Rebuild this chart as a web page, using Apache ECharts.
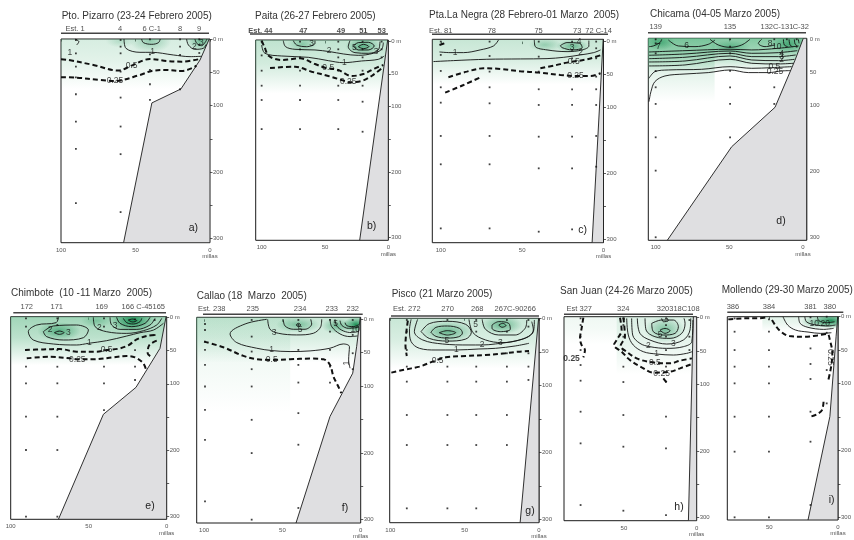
<!DOCTYPE html>
<html><head><meta charset="utf-8">
<script src="https://cdn.jsdelivr.net/npm/echarts@6/dist/echarts.min.js"></script>
<style>html,body{margin:0;padding:0;background:#fff}#c{width:854px;height:540px}</style>
</head><body><div id="c"></div>
<script>
// ---------- DATA (miles offshore, depth m) ----------
const titles = ['Pto. Pizarro (23-24 Febrero 2005)','Paita (26-27 Febrero 2005)','Pta.La Negra (28 Febrero-01 Marzo  2005)','Chicama (04-05 Marzo 2005)','Chimbote  (10 -11 Marzo  2005)','Callao (18  Marzo  2005)','Pisco (21 Marzo 2005)','San Juan (24-26 Marzo 2005)','Mollendo (29-30 Marzo 2005)'];
const letters = ['a)','b)','c)','d)','e)','f)','g)','h)','i)'];
const xTickValues = [0,50,100];
const yTickValues = [0,50,100,150,200,250,300];
const yLabelValues = [0,50,100,200,300];

// a) Pto. Pizarro
const stationsA = [['Est. 1',90.6],['4',60.4],['6 C-1',39.1],['8',20.1],['9',7.4]];
const dotsA = [[90,1.5,21.5,41.5,57.5,83,124,165,246.5],[60,1.5,11.5,21.5,49,88,131.5,173,260],[40.3,0.5,23,46.5,68,91.5],[20.1,0.5,11.5,24,48,75.5],[7.2,0.5,9,21]];
const bathyA = [[0.5,0],[6.7,31.5],[19.5,75],[39,96],[58,306]];
const contoursA = [
 [0.25,[[100,57.5],[89.9,58],[73.8,61.5],[63.8,63],[47,54],[39.1,48],[29.1,46.5],[19,48],[11.2,43],[9.2,40]]],
 [0.5,[[100,30.5],[95.1,31.5],[78.3,39],[61.5,47.5],[52.6,40],[40.3,30],[29.1,33],[19,34],[6.6,30]]],
 [1,[[57.7,0],[56.4,14],[47,20],[39.1,20],[24.6,24],[13.4,26.5],[5.8,26]]],
 [1,[[90.5,0],[88,4],[89.5,9]]],
 [2,[[45.9,0],[44.7,5.5],[39.1,8],[34.6,5.5],[33.4,0]]],
 [2,[[15.7,0],[14.5,9],[10.1,15.5],[4.5,14],[2.5,8]]],
 [3,[[10.1,0],[8.9,6.5],[5.6,10],[3.4,5.5],[2,0]]]
];
const labelsA = [['0.25',63.8,63],['0.5',52.6,40],['1',38.5,19.5],['1',94,20],['2',10.5,11],['3',5.8,5]];
const shadeA = [[100,0,75,0.26]];
const blobsA = [[40,3,14,18,0.35],[6,3,10,16,0.55],[60,3,10,10,0.2]];

// b) Paita
const stationsB = [['Est. 44',101],['47',67.1],['49',37.4],['51',19.7],['53',5.2]];
const dotsB = [[100,1,22,45.3,68.2,90,134.4],[69.7,1,12.7,25,45.3,68.2,90,134.4],[39.5,1,12.7,25,45.3,68.2,90,134.4],[20.3,1,12.7,25,45.3,68.2,92.6,138.4],[5.3,1,12.7,25]];
const bathyB = [[0.5,-1.5],[22.6,304]];
const contoursB = [
 [0.5,[[100,-0.5],[97.9,8.7],[94.2,22.9],[84.2,29],[69.7,26.5],[57.9,35.1],[50,40.7],[39.5,44.3],[28.9,53.4],[19.7,50.4],[10.5,41.7],[3.9,36.6]]],
 [0.25,[[93.4,41.2],[73.7,39.2],[60.5,46.8],[47.4,53.4],[36.8,59.5],[30.3,63.1],[21.1,61],[13.2,53.4],[5.3,41.7]]],
 [1,[[100,6.1],[97.4,18.8],[84.2,22.9],[63.2,24.9],[47.4,30],[35.5,33.1],[21.1,30.5],[7.9,28],[3.2,22.9]]],
 [2,[[82.9,-0.5],[81.1,8.7],[73.7,12.7],[57.9,13.7],[46.1,16.3],[35.5,19.8],[23.7,21.9],[11.8,18.8],[5.3,12.7],[3.9,2.5]]],
 [3,[[75,-0.5],[72.4,6.1],[64.5,8.7],[57.9,3.6],[57.9,-0.5]]],
 [3,[[30.3,-0.5],[31.6,8.7],[26.3,17.8],[15.8,18.8],[7.9,13.7],[6.6,1]]],
 [5,[[27.6,7.6],[23.7,2.5],[15.8,2],[11.1,7.6],[15.8,13.7],[23.7,13.7],[27.6,7.6]]],
 [10,[[23.7,8.7],[19.7,5.1],[15.3,8.7],[19.7,11.7],[23.7,8.7]]]
];
const labelsB = [['0.5',47.4,40.7],['0.25',31.6,62.1],['1',34.7,33.1],['2',46.8,15.3],['3',60.5,3.6],['5',26.8,10.2],['3',9.7,16.3]];
const shadeB = [[105,0,80,0.4]];
const blobsB = [[20,8,14,14,0.6],[68,5,12,12,0.35]];

// c) Pta. La Negra
const stationsC = [['Est. 81',100],['78',68.6],['75',39.9],['73',16.2],['72 C-14',3]];
const dotsC = [[100,0,20.2,44.5,69.3,92.6,143.1,186.1,283.3],[70,0,21.8,45.5,69.3,93.6,143.1,186.1,283.3],[39.8,0,22.8,45.5,72.3,96.1,144.2,192.2,288.3],[19.3,0,12.6,25.3,72.3,96.1,144.2,192.2,284.8],[4.5,0,10.1,25.3,53.1,72.3,96.1,143.1,189.7]];
const bathyC = [[0.2,-3.5],[7,305]];
const contoursC = [
 [0.25,[[95.3,54.1],[84,45.5],[73.7,40.5],[63.4,41.5],[51.1,45],[39.8,47],[26.5,50.6],[17.2,52.1],[8,52.1],[1.8,48]]],
 [0.25,[[97.3,77.4],[86,65.8],[74.7,53.1]]],
 [0.25,[[100.8,5.1],[96.3,1.5]]],
 [0.5,[[38.8,40.5],[29.6,35.9],[22.4,31.9],[10.1,26.8],[1.8,20.7]]],
 [1,[[100.8,15.7],[94.3,16.7],[86,16.7],[75.8,12.6],[67.6,6.6],[64.5,-2.5]]],
 [1,[[104.5,30.3],[92.2,28.8],[71.7,26.8],[51.1,26.3],[34.7,25.8],[24.4,23.8],[14.2,20.2],[6,16.7],[1.8,12.6]]],
 [2,[[42.5,-2.5],[41.9,7.6],[34.7,12.6],[22.4,15.2],[13.1,12.6],[9,6.6],[9,-1.5]]],
 [3,[[26.5,6.1],[22.4,1.5],[14.6,2.5],[13.1,9.1],[19.3,12.6],[25.5,9.1],[26.5,6.1]]]
];
const labelsC = [['1',91.2,16.2],['0.5',18.3,30.3],['0.25',17.2,52.1],['3',19.3,9.1],['4',15,-0.5],['2',14,16]];
const shadeC = [[105,0,65,0.35]];
const blobsC = [[19,7,10,10,0.55],[36,5,10,10,0.3]];

// d) Chicama
const stationsD = [['139',100],['135',49.6],['132',24.6],['C-131',13.5],['C-32',1.5]];
const dotsD = [[100,0.5,6.6,21.7,48.4,73.1,98.3,148.8,199.2,300],[49.5,0.5,11.6,21.7,48.4,73.1,98.3,148.8],[19.5,0.5,73.1,98.3],[11,0.5],[4.3,0.5,11.6]];
const bathyD = [[-0.2,-1],[5.4,32],[19,103.4],[48.4,163],[92.1,304.6]];
const contoursD = [
 [0.25,[[104.5,94.8],[103.2,79.7],[100.5,64.5],[93.7,56],[80.1,53],[64.3,50.9],[49.5,46.9],[37.1,50.9],[23.5,50.9],[14.5,48.4],[8.6,47.9]]],
 [0.5,[[104.5,59.5],[100.5,49.4],[91.4,46.9],[68.8,45.9],[49.5,41.9],[34.8,44.4],[21.3,43.4],[7.7,41.9]]],
 [1,[[104.5,40.8],[80.1,39.3],[49.5,30.8],[34.8,36.8],[16.7,37.8],[6.5,36.8]]],
 [2,[[104.5,34.8],[80.1,33.3],[49.5,25.7],[34.8,31.8],[16.7,32.8],[5.8,30.8]]],
 [3,[[104.5,29.8],[80.1,27.7],[49.5,21.7],[34.8,26.7],[16.7,26.7],[4.9,24.2]]],
 [4,[[104.5,24.7],[80.1,22.7],[49.5,18.2],[34.8,21.7],[16.7,20.7],[3.9,17.7]]],
 [5,[[104.5,19.7],[80.1,17.7],[49.5,15.6],[34.8,16.6],[16.7,14.1],[3,10.6]]],
 [6,[[91.4,1.5],[84.6,10.6],[73.3,11.6],[64.3,8.1],[59.7,1.5]]],
 [6,[[63.1,0.5],[57.5,9.1],[49.5,12.6],[41.6,9.1],[36,0.5]]],
 [7,[[104.5,11.6],[101.6,10.6],[97.1,5.5],[95.9,0.5]]],
 [8,[[28.1,0.5],[30.3,6.6],[25.8,11.6],[19,9.1]]],
 [8,[[13.3,0.5],[12.7,9.1],[10.4,11.6]]],
 [9,[[9.5,0.5],[8.8,9.1],[7.2,11.6]]],
 [10,[[5.9,0.5],[5.4,7.6],[4.1,10.1]]],
 [12,[[3.2,0.5],[2.7,6.6]]]
];
const labelsD = [['7',98.2,11.6],['6',79,10.6],['0.25',19,49],['0.5',19.5,42],['2',14.5,32],['3',14.5,27],['4',14.5,21.5],['8',22.4,7.6],['10',17.9,11]];
const shadeD = [[105,-2.5,50,0.8],[105,60,95,0.3]];
const blobsD = [[97,5,10,12,0.5],[49.5,12,14,10,0.45],[10,8,12,14,0.6]];

// e) Chimbote
const stationsE = [['172',89.7],['171',70.5],['169',41.7],['166 C-45165',15]];
const dotsE = [[90.2,1.5,14,49.2,74.3,99.3,149.5,199.7,300],[70.1,1.5,11.5,49.2,74.3,99.3,149.5,199.7,300],[40.2,1.5,14,49.2,74.3,99.3,139.5],[20.3,3,49.2,74.3,94.3],[7.7,4,26.6]];
const bathyE = [[0.4,-1],[4.3,46.7],[19.7,105.4],[40.6,146],[69.4,304]];
const contoursE = [
 [0.25,[[89.7,61.7],[74.8,59.2],[62,61.7],[57.3,63.2],[47,63.2],[34.2,60.2],[25.6,58.2],[20.3,60.2],[15,69.2],[13.2,79.3]]],
 [0.5,[[90.8,49.2],[79.1,48.2],[68.4,47.7],[57.7,51.7],[44.9,51.7],[38.5,49.2],[31,47.2],[24.6,42.1],[19.2,33.1],[12.8,28.1],[6.4,26.1]]],
 [0.5,[[6.4,35.1],[11.1,41.6],[12.2,54.2],[9,60.2]]],
 [1,[[69.4,0],[70.9,8],[83.3,11.5],[88.7,21.6],[85.5,34.1],[72.6,40.1],[57.7,41.6],[50.2,39.1],[38.5,35.1],[25.6,28.1],[17.1,23.1],[8.5,19.1],[2.1,9]]],
 [2,[[79.1,21.6],[72.6,13],[57.7,11.5],[50.2,19.1],[53.4,30.6],[66.2,34.1],[76.9,29.1],[79.1,21.6]]],
 [3,[[72,23.1],[68.8,20.6],[65.8,23.1],[68.8,25.6],[72,23.1]]],
 [2,[[47,0],[45.9,14],[38.5,21.6],[25.6,24.1],[15,20.1],[6.4,11.5],[3.2,1.5]]],
 [3,[[36.3,0],[35.3,11.5],[29.9,18.1],[19.2,18.1],[10.7,11.5],[7.5,1.5]]],
 [4,[[32.1,0],[29.9,9],[22.4,14],[13.9,9],[10.7,0]]],
 [5,[[27.8,1.5],[25.6,8],[21.4,10],[17.1,6.5],[16,1.5]]],
 [6,[[24.6,4],[21.8,2.5],[19.2,5],[21.8,7],[24.6,4]]]
];
const labelsE = [['0.25',57.3,63.2],['0.5',38.5,49.2],['1',49.6,38.5],['2',74.8,18.1],['3',63,23.1],['2',43.2,15.1],['3',33.1,13]];
const shadeE = [[100,0,72,0.6]];
const blobsE = [[69,21,14,14,0.6],[22,5,14,18,0.95],[45,5,10,10,0.3]];

// f) Callao
const stationsF = [['Est. 238',95.1],['235',68.9],['234',38.7],['233',18.5],['232',5.1]];
const dotsF = [[99.4,7,16,33.4,45.8,68.3,100.6,135.5,180.4,272.5],[69.6,1,25.9,48.3,74.7,100.6,150.5,200.3,300],[39.8,1,8.5,45.8,68.3,94.7,140.5,187.8,282.5],[19.6,1,18.4,45.8,70.8,94.7],[5.1,1,23.4,50.8,74.7]];
const bathyF = [[0.3,-3],[2.6,41],[5.1,80.7],[19.6,145.5],[41.3,305]];
const contoursF = [
 [0.5,[[100,33.4],[87.7,41.9],[74.9,54.8],[66.4,59.8],[56.8,60.8],[45.1,59.8],[32.3,58.8],[23.8,59.8],[19.6,68.3],[17.4,85.7],[14.3,100.6],[12.4,110.5]]],
 [1,[[60,0],[73.8,7],[83.4,21.9],[79.1,34.9],[66.4,43.3],[56.8,46.8],[45.1,48.3],[32.3,47.3],[19.6,43.3],[11.1,36.9],[7.2,40.9],[7.7,60.8],[6.8,73.2]]],
 [3,[[59.4,0],[57.9,14.9],[52.6,20.9],[40.9,23.4],[30.2,20.9],[25.5,11],[24.9,0]]],
 [5,[[49.4,0],[48.3,10],[43,14.9],[35.5,14.9],[31.3,7],[31.9,0]]],
 [7,[[41.3,8.5],[39.8,6],[38.3,8.5],[39.8,11],[41.3,8.5]]],
 [3,[[19.6,0],[18.5,11],[13.2,21.9],[6.8,25.9],[2,24.9]]],
 [5,[[16.4,0],[15.3,10],[11.1,17.4],[5.7,19.9],[1.7,18.4]]],
 [10,[[13.2,2],[12.1,9],[7.9,13.5],[1.4,12]]],
 [15,[[10,5],[8.9,9.5],[4.7,11],[1.3,8]]]
];
const labelsF = [['0.5',56.8,60.8],['1',56.8,46],['1',8.9,65.8,90],['3',55.3,19.9],['5',38.7,16],['5',16,7],['10',3.5,16]];
const shadeF = [[105,0,65,0.35],[105,45,140,0.12]];
const blobsF = [[40,8,14,12,0.45],[3,8,8,12,0.95],[15,10,10,12,0.5]];

// g) Pisco
const stationsG = [['Est. 272',88.9],['270',61.5],['268',41.5],['267C-90266',16]];
const dotsG = [[88.9,2.5,19.9,47.3,72.1,94.5,144.3,189.1,283.6],[61.6,2.5,72.1,94.5,144.3,189.1,283.6],[42.2,2.5,19.9,72.1,94.5,144.3,189.1,283.6],[21.6,2.5,19.9,52.2,72.1,94.5,144.3,189.1],[7.1,2.5,12.4,52.2,72.1,92]];
const bathyG = [[0.3,0],[12.7,305]];
const contoursG = [
 [0.5,[[99.3,81.1],[91.6,77.1],[80.4,72.1],[71.6,64.7],[62.7,58.2],[49.3,56.2],[36,54.7],[22.7,52.2],[13.8,49.8],[6.7,48.8]]],
 [0.5,[[88.2,3.5],[89.3,22.4],[89.8,39.8],[88.9,56.2]]],
 [1,[[86,1.5],[87.1,17.4],[86,34.8],[80.4,44.8],[69.3,47.3],[56,47.3],[40.4,45.8],[29.3,44.8],[16,41.3],[6.7,37.3]]],
 [2,[[81.6,1.5],[83.8,19.9],[78.2,32.3],[64.9,38.3],[47.1,39.8],[38.2,39.8],[29.3,38.3],[16,33.8],[7.1,27.4],[3.8,17.4],[4.9,5]]],
 [3,[[79.3,19.9],[73.8,8],[61.6,4.5],[49.3,9],[45.5,21],[49.3,31],[61.6,34],[73.8,30],[79.3,19.9]]],
 [5,[[72.7,21],[69.3,13.5],[61.6,11.5],[53.5,15],[51.5,22],[54,27.5],[61.6,29.5],[69.3,27],[72.7,21]]],
 [7,[[67.1,21.5],[61.6,18.4],[56,21.5],[61.6,25],[67.1,21.5]]],
 [3,[[47.1,1.5],[44.4,21.4],[36,32.3],[24.9,36.3],[11.6,31.3],[3.8,19.9],[3.1,2.5]]],
 [5,[[38.2,1.5],[36,16.4],[27.1,24.9],[16,24.9],[9.3,14.9],[8.2,2.5]]],
 [7,[[31.6,10],[27.1,5],[20.4,7.5],[19.3,16.4],[26,19.9],[31.6,14.9],[31.6,10]]],
 [9,[[27.1,10],[24.4,7.5],[22.2,10.9],[24.9,13.4],[27.1,10]]]
];
const labelsG = [['0.5',68.2,63.2],['1',55.6,47.3],['2',38.2,39.8],['3',26,37],['5',62,33],['5',42.7,9]];
const shadeG = [[100,0,75,0.35]];
const blobsG = [[61.6,20,18,16,0.55],[25,10,14,14,0.55]];

// h) San Juan
const stationsH = [['Est 327',80.7],['324',50.5],['320318C108',12.7]];
const dotsH = [[79.8,1,11,28.5,48.5,71,94.5,141,188.5,281],[50.4,1,11,28.5,48.5,73.5,96.5,146,193.5,289.5],[21.1,1,11,28.5,48.5,73.5,96,148.5,196,296],[5,3.5,28.5,48.5]];
const bathyH = [[2.3,-1.5],[5.7,304.5]];
const contoursH = [
 [0.25,[[77.9,0],[79.1,16],[80.2,31],[79.1,41],[76.8,48.5],[77.9,59.5]]],
 [0.25,[[52.7,0],[51.6,18.5],[55,33.5],[56.9,41],[51.6,51],[45.9,63.5],[37.8,74.5],[29.8,82.5],[18.3,81],[11.5,76],[3.4,69.5]]],
 [0.25,[[22.9,91],[20.6,97.5]]],
 [0.5,[[50.4,0],[49.3,28.5],[52.3,42.5],[48.1,51],[41.3,61],[32.1,66.5],[18.3,68.5],[11.5,64.5],[3.3,61]]],
 [1,[[48.1,1],[47,26],[43.6,41],[36.7,51],[27.5,54.5],[16,56],[6.9,53.5],[3.2,51]]],
 [2,[[44.7,1],[44,26],[39,38.5],[32.1,43.5],[20.6,46],[9.2,43.5],[3.4,36],[2.6,3.5]]],
 [3,[[40.8,1],[39,23.5],[32.1,33.5],[20.6,39.5],[9.2,33.5],[4.6,18.5],[4.1,1]]],
 [4,[[35.5,1],[34.8,18.5],[28.7,28.5],[18.3,31],[10.3,23.5],[8,8.5],[8.7,1]]],
 [5,[[30.9,8.5],[29.8,21],[22.9,26],[14.9,23.5],[12.6,13.5],[16,3.5],[24.1,3.5],[30.9,8.5]]],
 [7,[[25.2,18.5],[21.8,16],[18.3,19.5],[21.8,23.5],[25.2,18.5]]],
 [6,[[24.1,1],[22.9,6],[19.5,4.5],[20.6,0]]]
];
const labelsH = [['0.25',86,61,0,1],['0.25',24.1,83.5],['0.5',28.7,67.5],['1',27.5,54.5],['2',33.2,42.5],['3',16,38.5],['5',25.2,25]];
const shadeH = [[55,0,85,0.22],[91,55,40,0.1]];
const blobsH = [[22,18,14,20,0.5]];

// i) Mollendo
const stationsI = [['386',76.4],['384',50.2],['381',20],['380',5.9]];
const dotsI = [[75.2,2.5,22.4,49.8,74.6,99.5,149.3,201.5,299.5],[50.2,4,22.4,49.8,74.6,99.5,149.3,201.5,299.5],[20,1,47.3,70.6,93,141.8,186.6,281.1],[8.2,0,24,79.6,129.4]];
const bathyI = [[0.2,0],[1.4,30],[5.9,149],[21.8,303.5]];
const contoursI = [
 [0.25,[[79.8,4],[69.5,2.5],[58.2,2.5],[51.8,1]]],
 [0.25,[[48,5],[45.7,12.4],[42.3,20.9],[35.5,28.9],[24.1,29.9],[15,27.9],[7.7,25.9],[5.9,34.8],[4.1,54.7],[5,74.6],[7,94.5]]],
 [0.25,[[10.5,126.9],[11.6,139.3],[15,145.3],[20,149.3]]],
 [1,[[40,0],[36.6,12.4],[30.9,19.9],[21.8,22.9],[12.7,24.9],[4.8,23.9]]],
 [2,[[28.6,0],[27.5,10],[21.8,15.9],[10.5,18.9],[3.2,17.4]]],
 [5,[[24.1,0],[23,7.5],[17.3,11.9],[7.7,13.9],[1.8,12.4]]],
 [10,[[15,0],[13.9,6],[8.2,9],[2.5,7.5]]]
];
const labelsI = [['0.25',5.2,60.7,-90],['10',17.3,10],['20',9.3,10]];
const shadeI = [[55,0,22,0.2]];
const blobsI = [[5,6,12,12,0.95],[15,8,12,10,0.5]];

// ---------- LAYOUT (pixels) ----------
const layout = [
 {l:61,t:39,r:210,b:242.7,xMin:0,xMax:100,yMin:0,yMax:306,dash:true,title:[61.7,16],st:29,line:[61,209,33.3],letter:[193.3,227.7]},
 {l:255.7,t:40,r:388.3,b:240.3,xMin:0,xMax:104.7,yMin:-1.5,yMax:304,dash:true,title:[255,16],st:30.7,line:[250,388,34],letter:[371.7,226],bold:true},
 {l:432.3,t:39.3,r:603.5,b:242.7,xMin:0,xMax:105.2,yMin:-3.5,yMax:305,dash:true,title:[429,15],st:30.7,line:[432,608,34.3],letter:[582.7,230]},
 {l:648.3,t:38.3,r:806.7,b:240.3,xMin:-2.5,xMax:105,yMin:-1,yMax:304.6,dash:false,title:[650,14],st:27.3,line:[648,806,32.7],letter:[781,221]},
 {l:10.7,t:316.7,r:166.7,b:519.3,xMin:0,xMax:100,yMin:-1,yMax:304,dash:true,title:[11,293.3],st:306.7,line:[13.3,166,312.7],letter:[150,506]},
 {l:196.7,t:317.3,r:360.7,b:523.3,xMin:0,xMax:104.7,yMin:-3,yMax:305,dash:true,title:[196.7,296.7],st:309.3,line:[203,362.7,314.3],letter:[345,507.7]},
 {l:389.7,t:318.3,r:539,b:522.7,xMin:0,xMax:100.4,yMin:0,yMax:305,dash:true,title:[391.7,294],st:309.3,line:[391,539,316],letter:[530,510.7]},
 {l:564,t:316.7,r:696.7,b:520.7,xMin:0,xMax:91.2,yMin:-1.5,yMax:304.5,dash:true,title:[560,291.7],st:309.3,line:[564,693,314.3],letter:[679,506.7]},
 {l:727.3,t:316.7,r:845.3,b:520,xMin:0,xMax:80.5,yMin:0,yMax:303.5,dash:true,title:[721.7,290.7],st:307.3,line:[727.3,843.3,312.3],letter:[831.7,500]}
];

const panels = [
 {st:stationsA,dots:dotsA,bathy:bathyA,cont:contoursA,lab:labelsA,band:shadeA,blob:blobsA},
 {st:stationsB,dots:dotsB,bathy:bathyB,cont:contoursB,lab:labelsB,band:shadeB,blob:blobsB},
 {st:stationsC,dots:dotsC,bathy:bathyC,cont:contoursC,lab:labelsC,band:shadeC,blob:blobsC},
 {st:stationsD,dots:dotsD,bathy:bathyD,cont:contoursD,lab:labelsD,band:shadeD,blob:blobsD},
 {st:stationsE,dots:dotsE,bathy:bathyE,cont:contoursE,lab:labelsE,band:shadeE,blob:blobsE},
 {st:stationsF,dots:dotsF,bathy:bathyF,cont:contoursF,lab:labelsF,band:shadeF,blob:blobsF},
 {st:stationsG,dots:dotsG,bathy:bathyG,cont:contoursG,lab:labelsG,band:shadeG,blob:blobsG},
 {st:stationsH,dots:dotsH,bathy:bathyH,cont:contoursH,lab:labelsH,band:shadeH,blob:blobsH},
 {st:stationsI,dots:dotsI,bathy:bathyI,cont:contoursI,lab:labelsI,band:shadeI,blob:blobsI}
];

const FONT = '"Liberation Sans", Arial, sans-serif';
const grid = [], xAxis = [], yAxis = [], series = [], graphic = [];

panels.forEach((D, i) => {
  const L = layout[i];
  grid.push({left:L.l, top:L.t, width:L.r-L.l, height:L.b-L.t, show:true, borderColor:'#1a1a1a', borderWidth:1, backgroundColor:'rgba(0,0,0,0)'});
  const xt = xTickValues.filter(v => v >= L.xMin && v <= L.xMax);
  xAxis.push({gridIndex:i, type:'value', inverse:true, min:L.xMin, max:L.xMax,
    axisLine:{show:false}, splitLine:{show:false},
    axisTick:{show:true, length:2.5, lineStyle:{color:'#333', width:0.8}, customValues:xt},
    axisLabel:{fontSize:6, color:'#555', margin:4, lineHeight:6.5, fontFamily:FONT, customValues:xt,
      formatter: v => v === 0 ? '0\nmillas' : String(v)}});
  yAxis.push({gridIndex:i, type:'value', inverse:true, position:'right', min:L.yMin, max:L.yMax,
    axisLine:{show:false}, splitLine:{show:false},
    axisTick:{show:true, length:2.5, lineStyle:{color:'#333', width:0.8}, customValues:yTickValues},
    axisLabel:{fontSize:6, color:'#555', margin:3, fontFamily:FONT, customValues:yLabelValues,
      formatter: v => v === 0 ? '0 m' : String(v)}});

  // green shading
  const nb = D.band.length;
  series.push({type:'custom', xAxisIndex:i, yAxisIndex:i, z:1, silent:true, clip:true, animation:false,
    data: D.band.map(b => [b[0], b[2]]).concat(D.blob.map(b => [b[0], b[1]])),
    renderItem: (params, api) => {
      const k = params.dataIndex;
      if (k < nb) {
        const b = D.band[k];
        const p1 = api.coord([b[0], Math.max(L.yMin, 0) - 3]);
        const p2 = api.coord([b[1], b[2]]);
        return {type:'rect', shape:{x:Math.min(p1[0],p2[0]), y:p1[1], width:Math.abs(p2[0]-p1[0]), height:p2[1]-p1[1]},
          style:{fill:new echarts.graphic.LinearGradient(0,0,0,1,[{offset:0,color:'rgba(95,185,135,'+b[3]+')'},{offset:0.45,color:'rgba(95,185,135,'+(b[3]*0.7)+')'},{offset:1,color:'rgba(95,185,135,0)'}])}};
      }
      const b = D.blob[k - nb];
      const c = api.coord([b[0], b[1]]);
      const rx = Math.abs(api.size([b[2], 0])[0]) || 1;
      const ry = Math.abs(api.size([0, b[3]])[1]) || 1;
      return {type:'circle', shape:{cx:0, cy:0, r:rx}, x:c[0], y:c[1], scaleY: ry/rx,
        style:{fill:new echarts.graphic.RadialGradient(0.5,0.5,0.5,[{offset:0,color:'rgba(20,140,80,'+b[4]+')'},{offset:1,color:'rgba(20,140,80,0)'}])}};
    }});

  // bathymetry
  series.push({type:'custom', xAxisIndex:i, yAxisIndex:i, z:2, silent:true, clip:true, animation:false,
    data:[D.bathy[0]],
    renderItem: (params, api) => {
      const pts = D.bathy.map(q => api.coord(q));
      pts.push(api.coord([L.xMin, L.yMax]), api.coord([L.xMin, L.yMin]));
      return {type:'polygon', shape:{points:pts}, style:{fill:'#dfdfe1', stroke:'#1a1a1a', lineWidth:0.9}};
    }});

  // contours
  D.cont.forEach(c => {
    const dashed = L.dash && c[0] < 1;
    series.push({type:'line', xAxisIndex:i, yAxisIndex:i, data:c[1], smooth:0.35, symbol:'none', silent:true, z:3, animation:false,
      lineStyle:{color:'#111', width: dashed ? 2 : 0.9, type: dashed ? [5,3] : 'solid'}});
  });

  // sampling dots
  const pts = [];
  D.dots.forEach(col => { for (let j = 1; j < col.length; j++) pts.push([col[0], col[j]]); });
  series.push({type:'scatter', xAxisIndex:i, yAxisIndex:i, data:pts, symbol:'rect', symbolSize:1.8, itemStyle:{color:'#111'}, z:4, silent:true, animation:false});

  // contour labels
  series.push({type:'scatter', xAxisIndex:i, yAxisIndex:i, symbolSize:1, z:5, silent:true, animation:false, clip:false,
    itemStyle:{color:'rgba(0,0,0,0)'},
    data: D.lab.map(l => ({value:[l[1], l[2]], name:l[0], label:{rotate:l[3] || 0, fontWeight: l[4] ? 'bold' : 'normal'}})),
    label:{show:true, position:'inside', formatter: p => p.name, fontSize:8.5, color:'#111', fontFamily:FONT}});

  // station labels
  series.push({type:'scatter', xAxisIndex:i, yAxisIndex:i, symbolSize:1, z:5, silent:true, animation:false, clip:false,
    itemStyle:{color:'rgba(0,0,0,0)'},
    data: D.st.map(s => ({value:[s[1], L.yMin], name:s[0]})),
    label:{show:true, position:'inside', offset:[0, L.st - L.t], formatter: p => p.name, fontSize:7.5, color:'#222',
      fontFamily:FONT, fontWeight: L.bold ? 'bold' : 'normal'}});

  graphic.push({type:'text', x:L.title[0], y:L.title[1], silent:true, z:100,
    style:{text:titles[i], font:'10px ' + FONT, fill:'#333', textAlign:'left', textVerticalAlign:'middle'}});
  graphic.push({type:'text', x:L.letter[0], y:L.letter[1], silent:true, z:100,
    style:{text:letters[i], font:'10.5px ' + FONT, fill:'#222', textAlign:'center', textVerticalAlign:'middle'}});
  graphic.push({type:'line', silent:true, z:100, shape:{x1:L.line[0], y1:L.line[2], x2:L.line[1], y2:L.line[2]},
    style:{stroke:'#444', lineWidth:1.4}});
});

const chart = echarts.init(document.getElementById('c'), null, {renderer:'canvas'});
chart.setOption({animation:false, backgroundColor:'#fff', textStyle:{fontFamily:FONT},
  grid, xAxis, yAxis, series, graphic});
</script></body></html>
